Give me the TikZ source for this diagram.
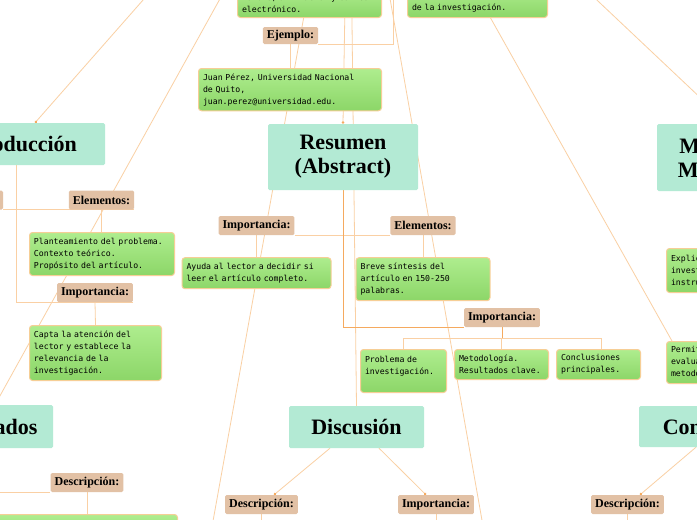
\documentclass[tikz,border=0pt]{standalone}
\usepackage{fontspec}
\setmainfont{Liberation Serif}
\newfontfamily\boxfont{DejaVu Sans Mono}
\usetikzlibrary{positioning,calc,arrows.meta}

\definecolor{topicteal}{RGB}{179,234,212}
\definecolor{labeltan}{RGB}{226,193,165}
\definecolor{greentop}{RGB}{174,237,142}
\definecolor{greenbot}{RGB}{140,214,104}
\definecolor{greenrim}{RGB}{246,206,150}
\definecolor{linkor}{RGB}{250,208,164}
\definecolor{linkdark}{RGB}{245,170,95}

\pgfdeclarelayer{background}
\pgfsetlayers{background,main}

\tikzset{
  topic/.style={fill=topicteal, rounded corners=1.5pt, align=center, inner sep=0pt,
    font=\fontsize{22}{24}\selectfont\bfseries},
  tag/.style={fill=labeltan, rounded corners=1.5pt, inner xsep=4pt, inner ysep=0pt,
    minimum height=19pt, font=\fontsize{12}{12}\selectfont\bfseries},
  note/.style={draw=greenrim, line width=1pt, top color=greentop, bottom color=greenbot,
    rounded corners=3pt, inner xsep=4.5pt, inner ysep=5pt, align=left,
    font=\boxfont\fontsize{8.2}{12}\selectfont, anchor=north west},
  link/.style={draw=linkor, line width=0.8pt},
  dotted end/.style={-{Circle[length=2.5pt,color=linkdark]}},
}

\begin{document}
\begin{tikzpicture}[x=1pt,y=-1pt,node distance=22pt]
  \useasboundingbox (0,0) rectangle (697,520);
  \clip (0,0) rectangle (697,520);

  % main topics
  \node[topic, minimum width=150pt, minimum height=66pt] (resumen) at (343,157) {Resumen\\(Abstract)};
  \node[topic, minimum width=178pt, minimum height=42pt] (intro) at (16,144) {Introducción};
  \node[topic, minimum width=142pt, minimum height=67pt] (metodo) at (728,157.5) {Métodos y\\Materiales};
  \node[topic, minimum width=134pt, minimum height=43pt] (resultados) at (-14,426.5) {Resultados};
  \node[topic, minimum width=135pt, minimum height=42pt] (discusion) at (356.5,427) {Discusión};
  \node[topic, minimum width=171pt, minimum height=41pt] (conclusiones) at (724.5,426.5) {Conclusiones};

  % top notes
  \node[note, anchor=south west, text width=135pt] (datos) at (237,18) {Nombre, afiliación y correo\\electrónico.};
  \node[note, anchor=south west, text width=131pt] (origen) at (407,18) {Contextualización y origen\\de la investigación.};
  \node[tag, minimum height=17pt] (ejemplo) at (290.5,35.5) {Ejemplo:};
  \node[note, text width=174pt, minimum height=42pt] (juan) at (198,68) {Juan Pérez, Universidad Nacional\\de Quito,\\juan.perez@universidad.edu.};

  % resumen
  \node[tag] (imp1) at (256.5,225.5) {Importancia:};
  \node[tag] (elem1) at (423,225.5) {Elementos:};
  \node[note, anchor=north, text width=140pt, minimum height=31pt] (ayuda) [below=of imp1] {Ayuda al lector a decidir si\\leer el artículo completo.};
  \node[note, anchor=north, text width=125pt, minimum height=43pt] (breve) [below=of elem1] {Breve síntesis del\\artículo en 150-250\\palabras.};
  \node[tag] (imp2) at (502,317.5) {Importancia:};
  \node[note, text width=77pt, minimum height=43pt] (problema) at (360,349) {Problema de\\investigación.\\~};
  \node[note, text width=85pt, minimum height=30pt] (metres) at (454,349) {Metodología.\\Resultados clave.};
  \node[note, text width=75pt, minimum height=30pt] (concl) at (556,349) {Conclusiones\\principales.};

  % introduccion
  \node[tag, minimum width=60pt] (introtag) at (-27,200) {};
  \node[tag] (elem2) at (101.5,200) {Elementos:};
  \node[tag] (imp3) at (95,292.5) {Importancia:};
  \node[note, text width=136pt, minimum height=43pt] (plant) at (29,232) {Planteamiento del problema.\\Contexto teórico.\\Propósito del artículo.};
  \node[note, text width=123pt, minimum height=55pt] (capta) at (29,325) {Capta la atención del\\lector y establece la\\relevancia de la\\investigación.};

  % metodos
  \node[note, text width=131pt, minimum height=44pt] (explica) at (666,248) {Explica el diseño de la\\investigación y los\\instrumentos.};
  \node[note, text width=131pt, minimum height=42pt] (permite) at (666,341) {Permite replicar y\\evaluar la validez\\metodológica.};

  % resultados, discusion, conclusiones
  \node[tag] (desc1) at (87,482.5) {Descripción:};
  \node[note, text width=171pt, minimum height=40pt] (resgreen) at (-3,514) {};
  \node[tag] (desc2) at (261.5,504.5) {Descripción:};
  \node[tag] (imp4) at (436,504.5) {Importancia:};
  \node[tag] (desc3) at (627.5,504.5) {Descripción:};

  \begin{pgfonlayer}{background}
    \clip (0,0) rectangle (697,520);
    \fill[white] (0,0) rectangle (697,520);
    \coordinate (root) at (349,-234);
    \coordinate (refsleft) at (206,560);
    \coordinate (refsright) at (489,560);
    \coordinate (ejtop) at (393,-10);

    % from the centre
    \draw[link, dotted end] (root) -- ($(intro.north)+(19,0)$);
    \draw[link] (root) -- ($(resultados.north)+(9,0)$);
    \draw[link, dotted end] (root) -- (resumen.north);
    \draw[link] (root) -- (discusion.north);
    \draw[link] (root) -- (metodo.north);
    \draw[link] (root) -- ($(permite.north west)+(6,0)$);
    \draw[link] (root) -- (refsleft);
    \draw[link] (root) -- (refsright);

    % top
    \draw[link] (ejtop) |- (ejemplo.south east);
    \draw[link] (ejemplo.south) -- (ejemplo.south |- juan.north);

    % resumen
    \draw[link] (resumen.south) |- (imp1.south east);
    \draw[link] (resumen.south) |- (elem1.south west);
    \draw[link, linkdark] (resumen.south) |- (imp2.south west);
    \draw[link] (imp1.south) -- (ayuda.north);
    \draw[link] (elem1.south) -- (breve.north);
    \draw[link, linkdark] (imp2.south) -- ++(0,11) coordinate (fork);
    \draw[link] (fork) -| (problema.north);
    \draw[link] (fork) -| (metres.north);
    \draw[link] (fork) -| ($(concl.north)+(3,0)$);

    % introduccion
    \draw[link] (intro.south) |- (introtag.south east);
    \draw[link] (intro.south) |- (elem2.south east);
    \draw[link] (intro.south) |- (imp3.south east);
    \draw[link] (elem2.south) -- (elem2.south |- plant.north);
    \draw[link] (imp3.south) -- (capta.north);

    % lower topics
    \draw[link] (resultados.south) |- (desc1.south west);
    \draw[link] (desc1.south) -- (desc1.south |- resgreen.north);
    \draw[link, dotted end] ($(discusion.south)+(-26.5,0)$) -- ($(desc2.north)+(12.5,0)$);
    \draw[link, dotted end] ($(discusion.south)+(22.5,0)$) -- ($(imp4.north)+(-10,0)$);
    \draw[link, dotted end] ($(conclusiones.south)+(-28.5,0)$) -- ($(desc3.north)+(12.5,0)$);
    \draw[link] (desc2.south) -- ++(0,12);
    \draw[link] (imp4.south) -- ++(0,12);
    \draw[link] (desc3.south) -- ++(0,12);
  \end{pgfonlayer}
\end{tikzpicture}
\end{document}
